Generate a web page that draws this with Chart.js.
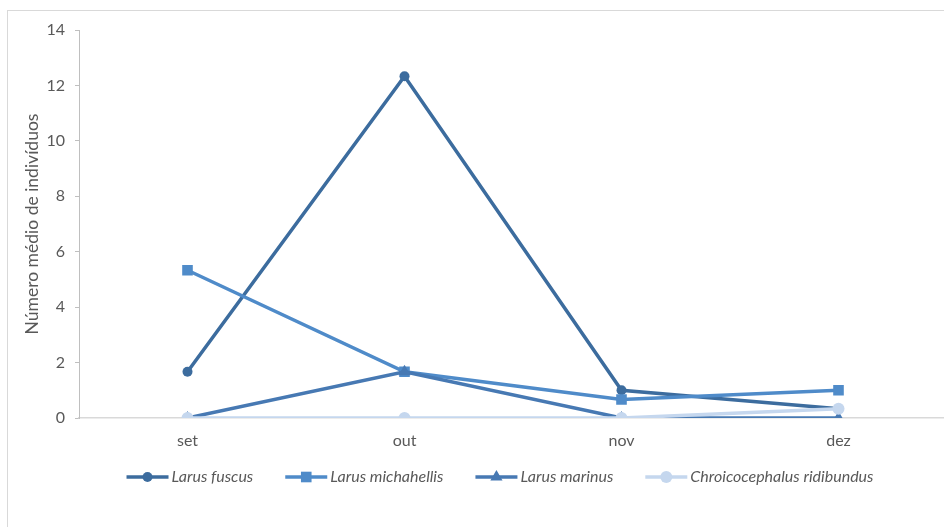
<!DOCTYPE html>
<html>
<head>
<meta charset="utf-8">
<script src="https://cdn.jsdelivr.net/npm/chart.js@4/dist/chart.umd.min.js"></script>
<style>
  html, body { margin: 0; padding: 0; background: #fff; overflow: hidden; }
  #frame {
    position: absolute; left: 7px; top: 10px; width: 1000px; height: 600px;
    border: 1px solid #d9d9d9;
  }
  #wrap { position: absolute; left: 0; top: 0; width: 960px; height: 527px; }
</style>
</head>
<body>
<div id="frame"></div>
<div id="wrap"><canvas id="chart"></canvas></div>
<script>
const months = ["set", "out", "nov", "dez"];
const species = ["Larus fuscus", "Larus michahellis", "Larus marinus", "Chroicocephalus ridibundus"];
const fuscus = [1.67, 12.33, 1.0, 0.33];
const michahellis = [5.33, 1.67, 0.67, 1.0];
const marinus = [0, 1.67, 0, 0];
const ridibundus = [0, 0, 0, 0.33];
const yTicks = [0, 2, 4, 6, 8, 10, 12, 14];

const colors = ["#3c6c9e", "#4f8bc9", "#4779b3", "#c5d7ee"];
const markers = ["circle", "rect", "triangle", "circle"];
const radii = [5, 7.5, 7, 6];

const font = "Lato, 'Open Sans', sans-serif";
const grey = "#595959";

const datasets = [fuscus, michahellis, marinus, ridibundus].map((vals, i) => ({
  label: species[i],
  data: vals,
  borderColor: colors[i],
  backgroundColor: colors[i],
  pointBackgroundColor: colors[i],
  pointBorderColor: colors[i],
  pointStyle: markers[i],
  pointRadius: radii[i],
  pointHoverRadius: radii[i],
  borderWidth: 3.5,
  pointBorderWidth: 0,
  tension: 0,
  order: 4 - i,
}));

// legend drawn as line + marker + italic text, like the original
const lineLegend = {
  id: "lineLegend",
  afterDraw(chart) {
    const ctx = chart.ctx;
    const y = 477;
    const sample = 42, gapText = 3, gapItem = 32;
    ctx.save();
    ctx.font = "italic 16px " + font;
    const widths = species.map(s => ctx.measureText(s).width);
    const total = widths.reduce((a, w) => a + sample + gapText + w, 0) + gapItem * (species.length - 1);
    let x = 500 - total / 2;
    species.forEach((name, i) => {
      ctx.strokeStyle = colors[i];
      ctx.fillStyle = colors[i];
      ctx.lineWidth = 3.5;
      ctx.beginPath();
      ctx.moveTo(x, y);
      ctx.lineTo(x + sample, y);
      ctx.stroke();
      const cx = x + sample / 2, r = radii[i];
      ctx.beginPath();
      if (markers[i] === "circle") {
        ctx.arc(cx, y, r, 0, Math.PI * 2);
      } else if (markers[i] === "rect") {
        const s = r * Math.SQRT1_2;
        ctx.rect(cx - s, y - s, 2 * s, 2 * s);
      } else {
        ctx.moveTo(cx, y - r);
        ctx.lineTo(cx + r * 0.87, y + r * 0.5);
        ctx.lineTo(cx - r * 0.87, y + r * 0.5);
        ctx.closePath();
      }
      ctx.fill();
      ctx.fillStyle = grey;
      ctx.textBaseline = "middle";
      ctx.textAlign = "left";
      ctx.fillText(name, x + sample + gapText, y);
      x += sample + gapText + widths[i] + gapItem;
    });
    ctx.restore();
  },
};

new Chart(document.getElementById("chart"), {
  type: "line",
  data: { labels: months, datasets },
  plugins: [lineLegend],
  options: {
    responsive: true,
    maintainAspectRatio: false,
    animation: false,
    layout: { padding: { top: 30, right: 13, bottom: 0, left: 0 } },
    plugins: {
      legend: { display: false },
      tooltip: { enabled: false },
    },
    scales: {
      x: {
        offset: true,
        grid: { display: false },
        border: { display: true, color: "#d9d9d9", width: 1.5 },
        ticks: { color: grey, font: { family: font, size: 16 }, padding: 5 },
        afterFit(scale) { scale.height = 109; },
      },
      y: {
        min: 0,
        max: 14,
        afterBuildTicks(scale) { scale.ticks = yTicks.map(v => ({ value: v })); },
        grid: { drawOnChartArea: false, drawTicks: true, tickLength: 4, color: "#bfbfbf" },
        border: { display: true, color: "#bfbfbf" },
        ticks: { color: grey, font: { family: font, size: 16 }, padding: 10 },
        title: {
          display: true,
          text: "Número médio de indivíduos",
          color: grey,
          font: { family: font, size: 17.5 },
          padding: { top: 22, bottom: 0 },
        },
        afterFit(scale) { scale.width = 79; },
      },
    },
  },
});
</script>
</body>
</html>
